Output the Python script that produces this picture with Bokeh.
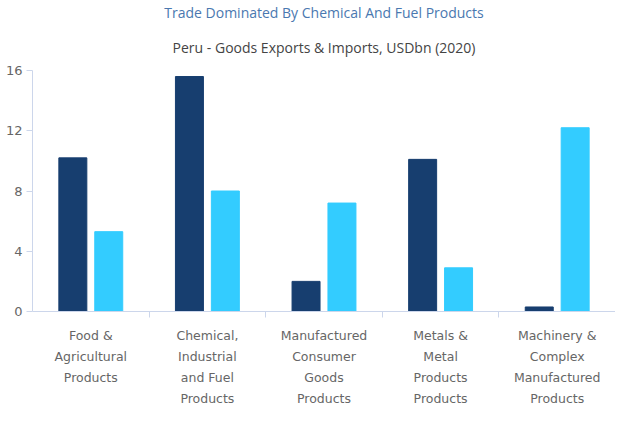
from bokeh.plotting import figure
from bokeh.models import (ColumnDataSource, FixedTicker, Legend, LegendItem, Title, Range1d, LinearAxis)
from bokeh.embed import file_html
from bokeh.resources import INLINE

categories = ["Food &\nAgricultural\nProducts",
              "Chemical,\nIndustrial\nand Fuel\nProducts",
              "Manufactured\nConsumer\nGoods\nProducts",
              "Metals &\nMetal\nProducts\nProducts",
              "Machinery &\nComplex\nManufactured\nProducts"]
exports = [10.2, 15.6, 2.0, 10.1, 0.3]
imports = [5.3, 8.0, 7.2, 2.9, 12.2]
y_ticks = [0, 4, 8, 12, 16]

EXP_C = "#173e6f"
IMP_C = "#33ccff"
AXIS_C = "#ccd6eb"
FONT = "DejaVu Sans"

n = len(categories)
centers = [i + 0.5 for i in range(n)]
off = 0.154
bw = 0.24

src = ColumnDataSource(dict(
    xe=[c - off for c in centers], xi=[c + off for c in centers],
    exports=exports, imports=imports))

p = figure(frame_width=583, frame_height=241, output_backend="svg", toolbar_location=None,
           x_range=Range1d(0, n), y_range=Range1d(0, 16),
           min_border_left=32, min_border_right=0, min_border_top=0, min_border_bottom=0)
p.outline_line_color = None
p.xgrid.visible = False
p.ygrid.visible = False

r1 = p.vbar(x="xe", top="exports", width=bw, source=src, fill_color=EXP_C, line_color=EXP_C)
r2 = p.vbar(x="xi", top="imports", width=bw, source=src, fill_color=IMP_C, line_color=IMP_C)

# titles
p.title.text = "Trade Dominated By Chemical And Fuel Products"
p.title.align = "center"
p.title.text_font = "Open Sans"
p.title.text_font_size = "14px"
p.title.text_font_style = "normal"
p.title.text_color = "#4a78b0"
p.title.standoff = 0
p.add_layout(Title(text="Peru - Goods Exports & Imports, USDbn (2020)", align="center",
                   text_font="Open Sans", text_font_size="14px", text_font_style="normal",
                   text_color="#444444", standoff=28), "above")

# category labels: one single-line axis per text line
lines = [c.split("\n") for c in categories]
n_lines = max(len(l) for l in lines)


def style_labels(ax):
    ax.major_label_text_font = FONT
    ax.major_label_text_font_size = "12.5px"
    ax.major_label_text_color = "#666666"


xa = p.xaxis[0]
xa.ticker = FixedTicker(ticks=centers, minor_ticks=[1, 2, 3, 4])
xa.major_label_overrides = {c: lines[i][0] for i, c in enumerate(centers)}
xa.major_tick_out = 0
xa.major_tick_in = 0
xa.minor_tick_out = 6
xa.minor_tick_in = 0
xa.minor_tick_line_color = AXIS_C
xa.axis_line_color = AXIS_C
xa.major_label_standoff = 10
style_labels(xa)

for k in range(1, n_lines):
    ax = LinearAxis(ticker=FixedTicker(ticks=centers),
                    major_label_overrides={c: (lines[i][k] if k < len(lines[i]) else " ")
                                           for i, c in enumerate(centers)})
    ax.axis_line_color = None
    ax.major_tick_line_color = None
    ax.minor_tick_line_color = None
    ax.major_tick_out = 0
    ax.major_tick_in = 0
    ax.minor_tick_out = 0
    ax.minor_tick_in = 0
    ax.major_label_standoff = 3
    style_labels(ax)
    p.add_layout(ax, "below")

ya = p.yaxis[0]
ya.ticker = FixedTicker(ticks=y_ticks)
ya.minor_tick_line_color = None
ya.major_tick_out = 6
ya.major_tick_in = 0
ya.major_tick_line_color = AXIS_C
ya.axis_line_color = AXIS_C
ya.major_label_text_font = FONT
ya.major_label_text_font_size = "13px"
ya.major_label_text_color = "#666666"
ya.major_label_standoff = 4

legend = Legend(items=[LegendItem(label="Exports", renderers=[r1]),
                       LegendItem(label="Imports", renderers=[r2])],
                orientation="horizontal", location="center")
legend.label_text_font = "Open Sans"
legend.label_text_font_size = "14px"
legend.label_text_color = "#3d5577"
legend.border_line_color = "#999999"
legend.border_radius = 5
legend.glyph_width = 20
legend.glyph_height = 14
legend.label_height = 14
legend.spacing = 6
legend.padding = 3
legend.margin = 0
p.add_layout(legend, "below")

open("out.html", "w").write(file_html(p, INLINE))
